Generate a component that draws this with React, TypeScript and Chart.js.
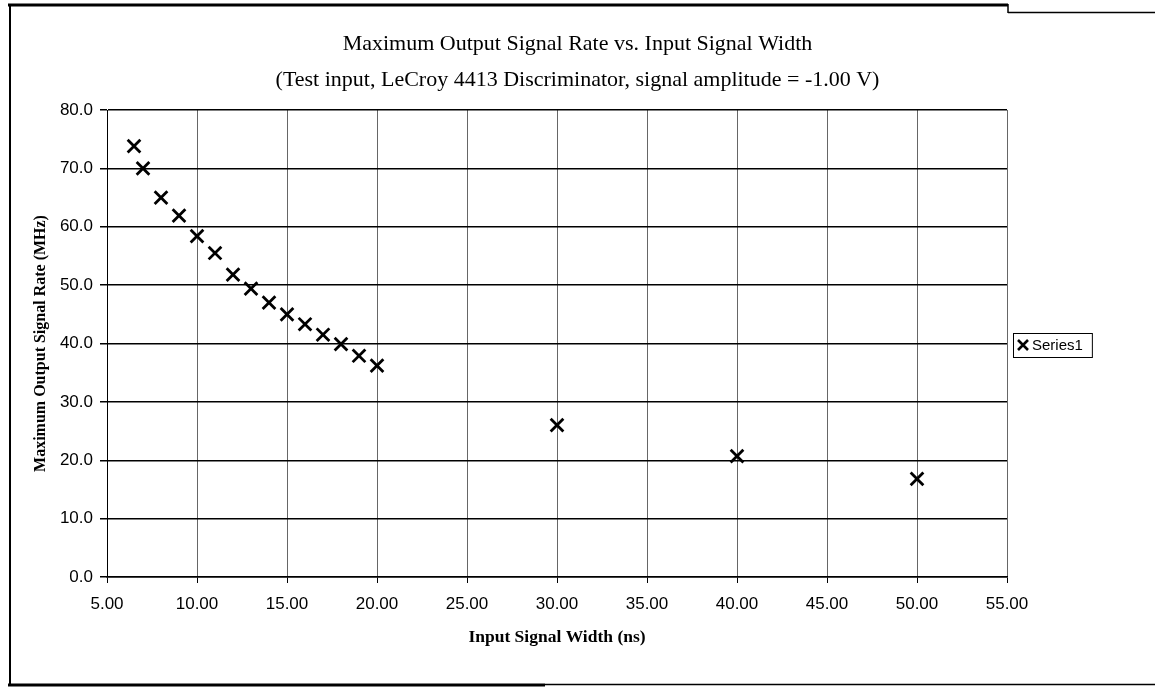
import React, { useEffect, useRef } from 'react';
import { Chart, registerables } from 'chart.js';

Chart.register(...registerables);

// ---- data ----
const inputWidthNs = [6.5, 7, 8, 9, 10, 11, 12, 13, 14, 15, 16, 17, 18, 19, 20, 30, 40, 50];
const maxRateMHz = [73.8, 70.0, 65.0, 61.9, 58.4, 55.5, 51.8, 49.4, 47.0, 45.0, 43.3, 41.5, 39.9, 37.9, 36.2, 26.0, 20.7, 16.8];
const seriesLabel = 'Series1';
const titleLines = [
  'Maximum Output Signal Rate vs. Input Signal Width',
  '(Test input, LeCroy 4413 Discriminator, signal amplitude = -1.00 V)',
];
const xAxisTitle = 'Input Signal Width (ns)';
const yAxisTitle = 'Maximum Output Signal Rate (MHz)';
const xRange = [5, 55];
const xStep = 5;
const yRange = [0, 80];
const yStep = 10;

const W = 1155;
const H = 687;

const framePlugin = {
  id: 'frame',
  beforeDraw(chart: any) {
    const { ctx } = chart;
    ctx.save();
    ctx.fillStyle = '#ffffff';
    ctx.fillRect(0, 0, chart.width, chart.height);
    ctx.restore();
  },
  afterDraw(chart: any) {
    const { ctx } = chart;
    ctx.save();
    ctx.strokeStyle = '#000';
    // top border
    ctx.lineWidth = 3;
    ctx.beginPath();
    ctx.moveTo(8, 5);
    ctx.lineTo(1008, 5);
    ctx.stroke();
    ctx.lineWidth = 1.5;
    ctx.beginPath();
    ctx.moveTo(1008, 4);
    ctx.lineTo(1008, 13);
    ctx.moveTo(1008, 12.5);
    ctx.lineTo(W, 12.5);
    ctx.stroke();
    // left border
    ctx.lineWidth = 2;
    ctx.beginPath();
    ctx.moveTo(10, 4);
    ctx.lineTo(10, 686);
    ctx.stroke();
    // bottom border
    ctx.lineWidth = 3;
    ctx.beginPath();
    ctx.moveTo(8, 685);
    ctx.lineTo(545, 685);
    ctx.stroke();
    ctx.lineWidth = 1.5;
    ctx.beginPath();
    ctx.moveTo(545, 684.5);
    ctx.lineTo(W, 684.5);
    ctx.stroke();
    ctx.restore();
  },
};

const boxLegendPlugin = {
  id: 'boxLegend',
  afterDraw(chart: any) {
    const { ctx, chartArea } = chart;
    const ds = chart.data.datasets[0];
    const cy = Math.round((chartArea.top + chartArea.bottom) / 2) + 1;
    const left = chartArea.right + 6;
    ctx.save();
    ctx.font = '15px "Liberation Sans", Arial, sans-serif';
    const tw = ctx.measureText(ds.label).width;
    const bw = 22 + tw + 6;
    const bh = 24;
    ctx.strokeStyle = '#000';
    ctx.lineWidth = 1;
    ctx.strokeRect(left + 0.5, cy - bh / 2 + 0.5, bw, bh);
    // marker
    const mx = left + 10;
    const r = 5;
    ctx.lineWidth = 2.6;
    ctx.beginPath();
    ctx.moveTo(mx - r, cy - r);
    ctx.lineTo(mx + r, cy + r);
    ctx.moveTo(mx - r, cy + r);
    ctx.lineTo(mx + r, cy - r);
    ctx.stroke();
    ctx.fillStyle = '#000';
    ctx.textBaseline = 'middle';
    ctx.textAlign = 'left';
    ctx.fillText(ds.label, left + 19, cy + 1);
    ctx.restore();
  },
};

export default function App() {
  const ref = useRef<HTMLCanvasElement | null>(null);

  useEffect(() => {
    if (!ref.current) return;
    const points = inputWidthNs.map((x, i) => ({ x, y: maxRateMHz[i] }));
    const chart = new Chart(ref.current, {
      type: 'scatter',
      data: {
        datasets: [
          {
            label: seriesLabel,
            data: points,
            pointStyle: 'crossRot',
            pointRadius: 9,
            pointBorderWidth: 2.8,
            borderColor: '#000',
            backgroundColor: '#000',
            pointHoverRadius: 9,
          },
        ],
      },
      options: {
        responsive: false,
        animation: false,
        devicePixelRatio: 1,
        layout: { padding: 0 },
        plugins: {
          legend: { display: false },
          tooltip: { enabled: false },
          title: {
            display: true,
            text: titleLines,
            color: '#000',
            font: { family: '"Liberation Serif", "Times New Roman", serif', size: 22, weight: 'normal', lineHeight: 1.6 },
            padding: { top: 27, bottom: 12.6 },
          },
        },
        scales: {
          x: {
            type: 'linear',
            min: xRange[0],
            max: xRange[1],
            afterFit: (s: any) => {
              s.height = 110;
            },
            ticks: {
              stepSize: xStep,
              color: '#000',
              padding: 11,
              font: { family: '"Liberation Sans", Arial, sans-serif', size: 17 },
              callback: (v: any) => Number(v).toFixed(2),
              maxRotation: 0,
            },
            grid: {
              color: 'rgba(0,0,0,0.6)',
              lineWidth: 1,
              tickLength: 6,
              tickColor: '#000',
            },
            border: { display: true, color: '#000', width: 1.5 },
            title: {
              display: true,
              text: xAxisTitle,
              color: '#000',
              font: { family: '"Liberation Serif", "Times New Roman", serif', size: 17.5, weight: 'bold', lineHeight: 1.2 },
              padding: { top: 0, bottom: 39 },
            },
          },
          y: {
            type: 'linear',
            min: yRange[0],
            max: yRange[1],
            afterFit: (s: any) => {
              s.width = 107;
            },
            ticks: {
              stepSize: yStep,
              color: '#000',
              padding: 7,
              font: { family: '"Liberation Sans", Arial, sans-serif', size: 17 },
              callback: (v: any) => Number(v).toFixed(1),
            },
            grid: {
              color: '#000',
              lineWidth: 1.5,
              tickLength: 7,
              tickColor: '#000',
            },
            border: { display: true, color: '#000', width: 1 },
            title: {
              display: true,
              text: yAxisTitle,
              color: '#000',
              font: { family: '"Liberation Serif", "Times New Roman", serif', size: 16, weight: 'bold', lineHeight: 1.2 },
              padding: { top: 31, bottom: 0 },
            },
          },
          yRight: {
            type: 'linear',
            axis: 'y',
            position: 'right',
            display: true,
            afterFit: (s: any) => {
              s.width = 148;
            },
            ticks: { display: false },
            grid: { display: false, drawTicks: false },
            border: { display: false },
          },
        },
      },
      plugins: [framePlugin, boxLegendPlugin],
    } as any);
    return () => chart.destroy();
  }, []);

  return (
    <div style={{ position: 'absolute', left: 0, top: 0, width: W, height: H }}>
      <canvas ref={ref} width={W} height={H} style={{ width: W, height: H, display: 'block' }} />
    </div>
  );
}
